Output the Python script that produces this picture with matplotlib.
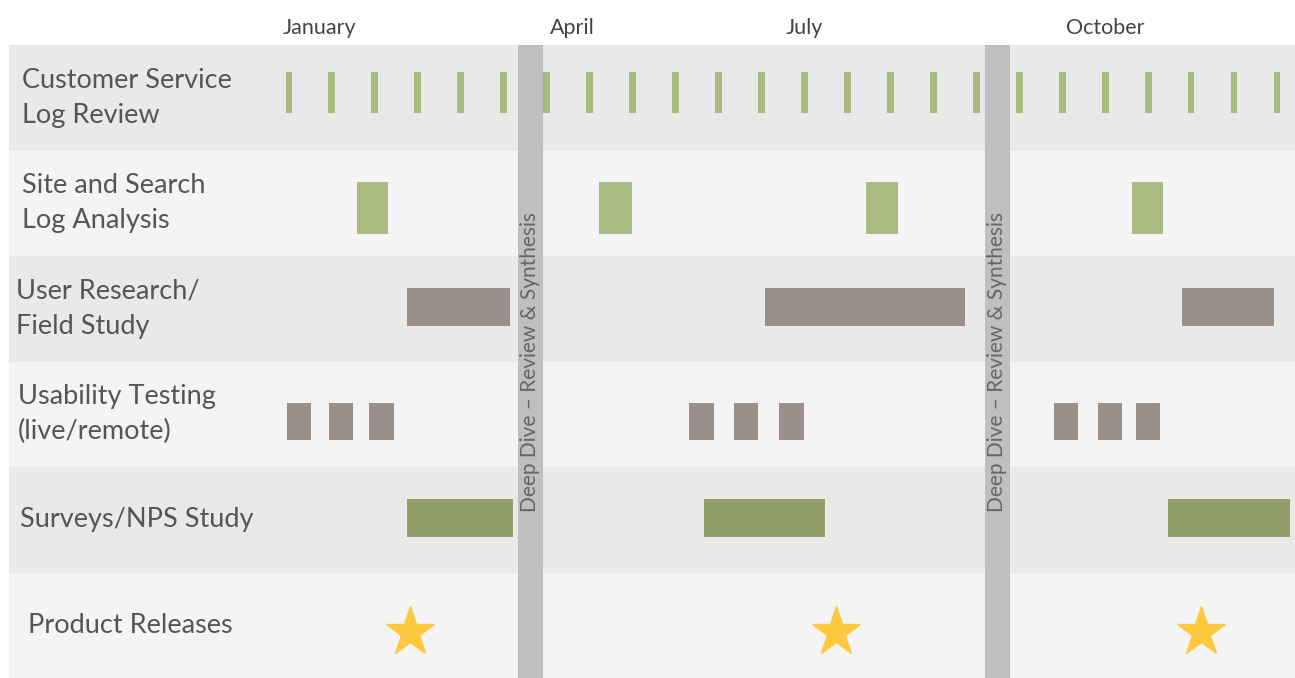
"""Research activity timeline: half-month periods across the year."""

import matplotlib

matplotlib.use("Agg")
import matplotlib.pyplot as plt  # noqa: E402

plt.rcParams["font.family"] = ["Lato", "DejaVu Sans"]

# x unit = one half-month period, tick 0 is the first January review
ROW_LABELS = [
    "Customer Service\nLog Review",
    "Site and Search\nLog Analysis",
    "User Research/\nField Study",
    "Usability Testing\n(live/remote)",
    "Surveys/NPS Study",
    "Product Releases",
]
MONTHS = ["January", "April", "July", "October"]
MONTH_POS = [0.72, 6.59, 12.01, 19.0]

LOG_REVIEWS = list(range(24))
SITE_START = [1.58, 7.22, 13.43, 19.62]
SITE_LEN = [0.72, 0.76, 0.75, 0.72]
FIELD_START = [2.75, 11.08, 20.79]
FIELD_LEN = [2.39, 4.66, 2.14]
USABILITY_START = [-0.05, 0.93, 1.86, 9.31, 10.36, 11.41, 17.81, 18.83, 19.72]
USABILITY_LEN = [0.56, 0.56, 0.58, 0.58, 0.56, 0.58, 0.56, 0.56, 0.55]
SURVEY_START = [2.75, 9.66, 20.46]
SURVEY_LEN = [2.46, 2.82, 2.84]
RELEASES = [2.82, 12.73, 21.23]
DEEP_DIVE_START = [5.33, 16.20]
DEEP_DIVE_LEN = [0.58, 0.58]
DEEP_DIVE_LABEL = "Deep Dive \u2013 Review & Synthesis"

LIGHT_GREEN = "#aabb82"
DARK_GREEN = "#939f6a"
TAUPE = "#9b8f8b"
GOLD = "#fcc93f"
TEXT = "#555555"

# small left indents of the row labels, in x units
LABEL_X = [-6.22, -6.22, -6.36, -6.31, -6.26, -6.08]

fig = plt.figure(figsize=(12.95, 6.78), dpi=100)
ax = fig.add_axes([0, 0, 1, 1])
ax.set_xlim(-6.727, 23.42)
ax.set_ylim(6, -0.427)
ax.axis("off")

# alternating row bands
for i in range(len(ROW_LABELS)):
    ax.axhspan(i, i + 1, xmin=0.007, xmax=1,
               color="#e9e9e9" if i % 2 == 0 else "#f4f4f4", lw=0, zorder=0)
    ax.text(LABEL_X[i], i + 0.5, ROW_LABELS[i], ha="left", va="center",
            fontsize=19.5, color=TEXT, linespacing=1.5)

for pos, name in zip(MONTH_POS, MONTHS):
    ax.text(pos, -0.16, name, ha="center", va="center", fontsize=15.5,
            color="#444444")

ax.bar(LOG_REVIEWS, 0.39, bottom=0.256, width=0.16, color=LIGHT_GREEN,
       zorder=2)
ax.bar(SITE_START, 0.49, bottom=1.30, width=SITE_LEN, align="edge",
       color=LIGHT_GREEN, zorder=2)
ax.barh(2.48, FIELD_LEN, left=FIELD_START, height=0.36, color=TAUPE, zorder=2)
ax.bar(USABILITY_START, 0.35, bottom=3.39, width=USABILITY_LEN, align="edge",
       color=TAUPE, zorder=2)
ax.barh(4.48, SURVEY_LEN, left=SURVEY_START, height=0.36, color=DARK_GREEN,
        zorder=2)
ax.plot(RELEASES, [5.56] * len(RELEASES), ls="none", marker="*", ms=37,
        color=GOLD, mec=GOLD, zorder=3)

for start, length in zip(DEEP_DIVE_START, DEEP_DIVE_LEN):
    ax.axvspan(start, start + length, ymin=0, ymax=0.9336, color="#bfbfbf",
               lw=0, zorder=4)
    ax.text(start + length / 2, 3.0, DEEP_DIVE_LABEL, rotation=90,
            ha="center", va="center", fontsize=15, color="#666666", zorder=5)

fig.savefig("out.png", dpi=100, facecolor="white")
plt.close(fig)
